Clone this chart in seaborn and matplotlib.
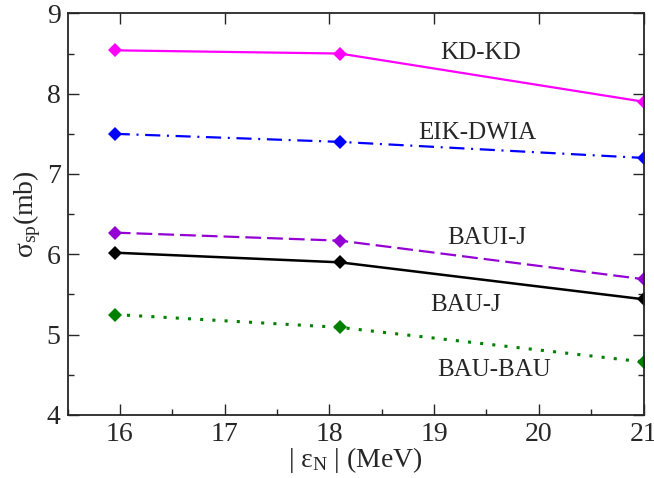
import pandas as pd
import seaborn as sns
import matplotlib.pyplot as plt
from matplotlib.ticker import MultipleLocator

# binding energy |eps_N| (MeV) for the three cases
energy = [15.95, 18.1, 21.0]

# single-particle cross sections (mb) per model
kd_kd = [8.54, 8.50, 7.90]
eik_dwia = [7.50, 7.40, 7.20]
baui_j = [6.27, 6.17, 5.69]
bau_j = [6.02, 5.90, 5.44]
bau_bau = [5.25, 5.09, 4.66]

model_names = ["KD-KD", "EIK-DWIA", "BAUI-J", "BAU-J", "BAU-BAU"]
label_x = [19.44, 19.41, 19.50, 19.30, 19.57]
label_y = [8.51, 7.51, 6.20, 5.37, 4.56]

sns.set_style("ticks")
plt.rcParams['font.family'] = ['Liberation Serif', 'DejaVu Serif']
plt.rcParams['mathtext.fontset'] = 'stix'

fig = plt.figure(figsize=(6.54, 4.78), dpi=100)
ax = fig.add_axes([0.1034, 0.132, 0.8806, 0.840])

series = [kd_kd, eik_dwia, baui_j, bau_j, bau_bau]
colors = ["#ff00ff", "#0000ff", "#9400d3", "#000000", "#008000"]
styles = ["-", (0, (6.8, 3.0, 0.9, 3.0)), (0, (7.1, 2.7)), "-", (0, (1.0, 3.0))]
widths = [1.6, 1.6, 1.6, 1.8, 2.2]

for name, vals, c, ls, lw in zip(model_names, series, colors, styles, widths):
    df = pd.DataFrame({"energy": energy, "sigma": vals})
    sns.lineplot(data=df, x="energy", y="sigma", ax=ax, color=c, linestyle=ls,
                 linewidth=lw, marker="D", markersize=7.5, markeredgewidth=0,
                 dash_capstyle="butt")

for name, lx, ly in zip(model_names, label_x, label_y):
    ax.text(lx, ly, name, fontsize=18, ha="center", va="center")

ax.set_xlim(15.5, 21)
ax.set_ylim(4, 9)
ax.xaxis.set_major_locator(MultipleLocator(1))
ax.xaxis.set_minor_locator(MultipleLocator(0.5))
ax.yaxis.set_major_locator(MultipleLocator(1))
ax.yaxis.set_minor_locator(MultipleLocator(0.5))
ax.tick_params(which="major", direction="in", length=8, width=1.0,
               top=True, right=True, labelsize=20, pad=5)
ax.tick_params(which="minor", direction="in", length=4, width=1.0,
               top=False, right=True)
for s in ax.spines.values():
    s.set_linewidth(1.3)

ax.set_xlabel(r"| $\mathregular{\varepsilon_N}$ | (MeV)", fontsize=20, labelpad=-1)
ax.set_ylabel(r"$\mathregular{\sigma_{sp}}$(mb)", fontsize=20, labelpad=3)

plt.savefig("out.png", dpi=100)
